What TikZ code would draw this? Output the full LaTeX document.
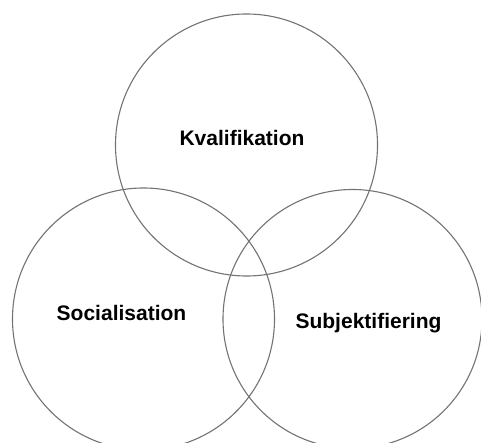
\documentclass[tikz,border=0pt]{standalone}
\usepackage{fontspec}
\setmainfont{Liberation Sans}
\begin{document}
\begin{tikzpicture}[x=1pt,y=-1pt,
  ring/.style={circle, draw=black!55, line width=1.1pt, inner sep=0pt, outer sep=0pt},
  lbl/.style={anchor=base, inner sep=0pt, font=\fontsize{21}{25}\selectfont\bfseries}]
\clip (0,0) rectangle (481,443);
\node[ring, minimum size=262pt] (top) at (246.5,145) {};
\node[ring, minimum size=262pt] (left) at (143.5,319) {};
\node[ring, minimum size=259pt] (right) at (352.5,319) {};
\node[lbl] (kval) at (242,146) {Kvalifikation};
\node[lbl] (soc) at (121.5,320) {Socialisation};
\node[lbl] (subj) at (368.5,328) {Subjektifiering};
\end{tikzpicture}
\end{document}
